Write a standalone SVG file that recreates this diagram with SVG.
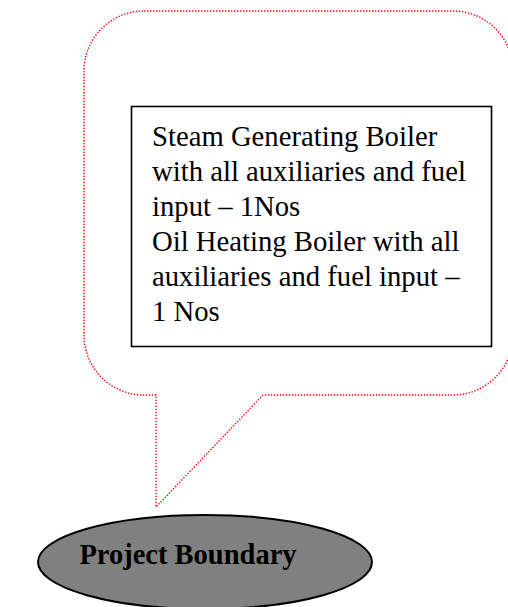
<svg xmlns="http://www.w3.org/2000/svg" width="508" height="607" viewBox="0 0 508 607">
  <style>
    .callout { fill: none; stroke: #ff0000; stroke-width: 1.4; stroke-dasharray: 1.4 1.6; }
    .box { fill: #ffffff; stroke: #000000; stroke-width: 1.6; }
    .body { font-family: "Liberation Serif", "Times New Roman", serif; font-size: 28.7px; fill: #000000; }
    .ellipse { fill: #808080; stroke: #000000; stroke-width: 2; }
    .label { font-family: "Liberation Serif", "Times New Roman", serif; font-size: 28.5px; font-weight: bold; fill: #000000; }
  </style>

  <!-- dotted speech-bubble outline with its tail pointing down to the boundary -->
  <g id="connectors">
    <path class="callout" d="M 144,11 H 453 A 60 60 0 0 1 513,71 V 335 A 60 60 0 0 1 453,395 H 263 L 156,507 V 395 H 144 A 60 60 0 0 1 84,335 V 71 A 60 60 0 0 1 144,11 Z"/>
  </g>

  <!-- equipment list -->
  <g id="equipment">
    <rect class="box" x="131.5" y="106.5" width="360" height="240"/>
    <text class="body">
      <tspan x="152" y="146">Steam Generating Boiler</tspan>
      <tspan x="152" y="181">with all auxiliaries and fuel</tspan>
      <tspan x="152" y="216">input – 1Nos</tspan>
      <tspan x="152" y="251">Oil Heating Boiler with all</tspan>
      <tspan x="152" y="286">auxiliaries and fuel input –</tspan>
      <tspan x="152" y="321">1 Nos</tspan>
    </text>
  </g>

  <!-- project boundary -->
  <g id="boundary">
    <ellipse class="ellipse" cx="205" cy="562" rx="167" ry="47"/>
    <text class="label" x="188" y="564" text-anchor="middle">Project Boundary</text>
  </g>
</svg>
